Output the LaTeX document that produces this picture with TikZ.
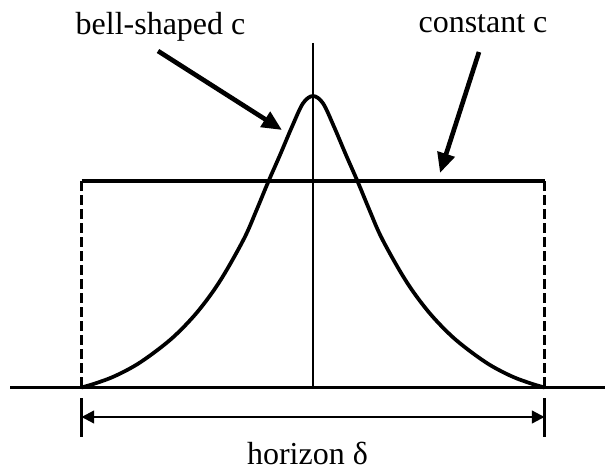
\documentclass[tikz,border=0pt]{standalone}
\usepackage{fontspec}
\setmainfont{Liberation Serif}
\usetikzlibrary{arrows.meta}
\begin{document}
\begin{tikzpicture}[x=0.75pt,y=-0.75pt,
  lbl/.style={font=\fontsize{24}{28}\selectfont, inner sep=0pt, anchor=base},
  pointer/.style={line width=3.5pt, -{Triangle[length=15pt,width=13pt]}},
  dimline/.style={line width=1.7pt, {Triangle[length=9.5pt,width=9.5pt]}-{Triangle[length=9.5pt,width=9.5pt]}},
  axisline/.style={line width=1.9pt},
  tickline/.style={line width=1.9pt},
  constline/.style={line width=2.6pt},
  dashline/.style={line width=2.6pt, dash pattern=on 7.5pt off 3pt},
  bellcurve/.style={line width=2.8pt, line join=round}]
\useasboundingbox (0,0) rectangle (605,470);
% key coordinates
\coordinate (axL) at (10,387.5);
\coordinate (axR) at (605,387.5);
\coordinate (vTop) at (313,43);
\coordinate (vBot) at (313,387.5);
\coordinate (cL) at (81.5,181);
\coordinate (cR) at (544.5,181);
\coordinate (bL) at (81.5,387.5);
\coordinate (bR) at (544.5,387.5);
\coordinate (tLtop) at (81.5,398);
\coordinate (tLbot) at (81.5,437);
\coordinate (tRtop) at (544.5,398);
\coordinate (tRbot) at (544.5,437);
\coordinate (dL) at (81.5,417);
\coordinate (dR) at (544.5,417);
\coordinate (bellTail) at (158,51);
\coordinate (bellTip) at (282,130);
\coordinate (constTail) at (479,52);
\coordinate (constTip) at (440,173);
% labels
\node[lbl] (bellLabel) at (160.5,35) {bell-shaped c};
\node[lbl] (constLabel) at (483,33) {constant c};
\node[lbl] (horizonLabel) at (307.5,464) {horizon δ};
% axes
\draw[axisline] (axL) -- (axR);
\draw[tickline] (vTop) -- (vBot);
% constant c
\draw[constline] (cL) -- (cR);
\draw[dashline] (cL) -- (bL);
\draw[dashline] (cR) -- (bR);
% bell curve
\draw[bellcurve] plot[smooth, tension=0.55] coordinates {
 (81.5,387.5) (95,383.5) (115,376) (140,362.5) (170,340) (193.3,316.7) (211.7,293.3)
 (226.7,270) (245,236.7) (256.7,209.7) (268.3,181.7) (280,155) (292,126.7)
 (303,103.3) (313,96)
 (323,103.3) (334,126.7) (346,155) (357.7,181.7) (369.3,209.7) (381,236.7)
 (399.3,270) (414.3,293.3) (432.7,316.7) (456,340) (486,362.5) (511,376) (531,383.5)
 (544.5,387.5)};
% pointers
\draw[pointer] (bellTail) -- (bellTip);
\draw[pointer] (constTail) -- (constTip);
% horizon dimension
\draw[tickline] (tLtop) -- (tLbot);
\draw[tickline] (tRtop) -- (tRbot);
\draw[dimline] (dL) -- (dR);
\end{tikzpicture}
\end{document}
